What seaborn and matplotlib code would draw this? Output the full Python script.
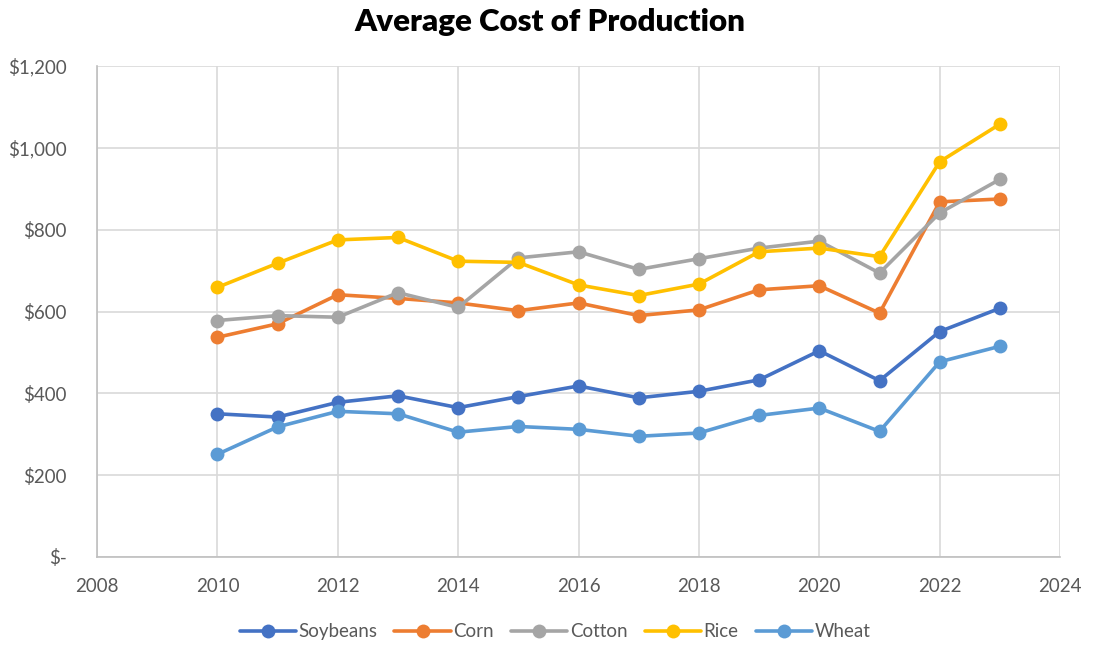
import numpy as np
import matplotlib
matplotlib.use("Agg")
import matplotlib.pyplot as plt
import matplotlib.ticker as mticker
import pandas as pd
import seaborn as sns

# data
years = list(range(2010, 2024))
soybeans = [350, 342, 378, 394, 365, 392, 418, 389, 405, 433, 504, 431, 551, 608]
corn = [537, 570, 641, 632, 621, 602, 621, 590, 604, 653, 663, 596, 868, 875]
cotton = [578, 590, 586, 646, 610, 731, 746, 703, 729, 755, 772, 694, 841, 923]
rice = [659, 718, 775, 781, 723, 720, 665, 639, 667, 746, 755, 734, 966, 1058]
wheat = [251, 318, 356, 350, 305, 319, 312, 295, 303, 346, 364, 307, 477, 515]

series = ['Soybeans', 'Corn', 'Cotton', 'Rice', 'Wheat']
colors = ['#4472C4', '#ED7D31', '#A5A5A5', '#FFC000', '#5B9BD5']

df = pd.DataFrame({'Year': years, 'Soybeans': soybeans, 'Corn': corn,
                   'Cotton': cotton, 'Rice': rice, 'Wheat': wheat})

sns.set_theme(style='whitegrid')
plt.rcParams['font.family'] = ['Lato', 'DejaVu Sans']

fig = plt.figure(figsize=(10.99, 6.46), dpi=100)
ax = fig.add_axes([0.0883, 0.1378, 0.8763, 0.760])

for name, col in zip(series, colors):
    sns.lineplot(x=df['Year'], y=df[name], color=col, marker='o',
                 markersize=10, markeredgewidth=0, linewidth=2.6,
                 label=name, ax=ax)

ax.set_xlim(2008, 2024)
ax.set_ylim(0, 1200)
ax.set_xticks(range(2008, 2025, 2))
ax.set_yticks(range(0, 1201, 200))


def money(v, pos):
    if v == 0:
        return '$-'
    return '${:,.0f}'.format(v)


ax.yaxis.set_major_formatter(mticker.FuncFormatter(money))
ax.set_xlabel('')
ax.set_ylabel('')
ax.grid(True, color='#d9d9d9', linewidth=1.2)
for side in ['top', 'right']:
    ax.spines[side].set_visible(False)
for side in ['left', 'bottom']:
    ax.spines[side].set_color('#bfbfbf')
    ax.spines[side].set_linewidth(1.2)
ax.tick_params(axis='both', length=0, labelsize=13.5, labelcolor='#595959')
ax.tick_params(axis='y', pad=22)
ax.tick_params(axis='x', pad=15)

ax.get_legend().remove()
handles, labels = ax.get_legend_handles_labels()
fig.legend(handles, labels, loc='center', bbox_to_anchor=(0.505, 0.022),
           ncol=5, frameon=False, fontsize=13.5, handlelength=3.0,
           columnspacing=0.9, handletextpad=0.15, labelcolor='#595959')

fig.text(0.5, 1 - 22 / 646, 'Average Cost of Production', ha='center',
         va='center', fontsize=22.5, fontweight='heavy', color='black')

fig.savefig('out.png', dpi=100)
